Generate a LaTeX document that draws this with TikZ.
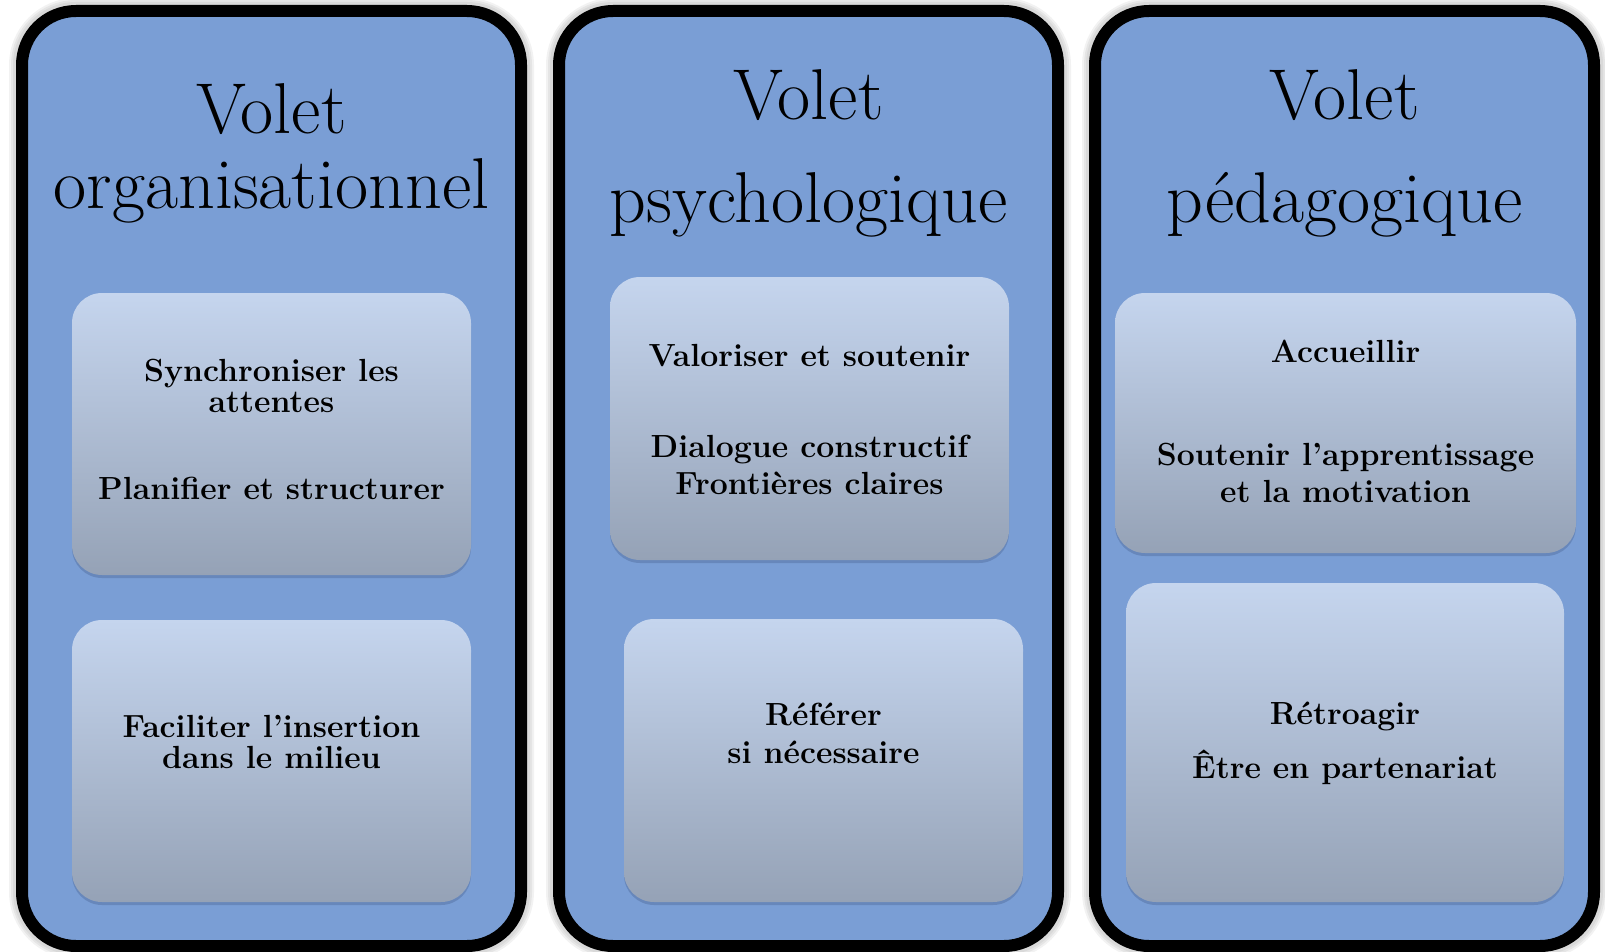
\documentclass[tikz,border=0pt]{standalone}
\usetikzlibrary{shadows}
\definecolor{panelblue}{RGB}{122,158,213}
\definecolor{boxtop}{RGB}{197,213,238}
\definecolor{boxbot}{RGB}{149,162,182}
\definecolor{shadowblue}{RGB}{60,85,130}
\tikzset{
  panel/.style={draw=black, line width=6pt, fill=panelblue, rounded corners=27pt,
    minimum width=249.5pt, minimum height=467.5pt, inner sep=0pt, outer sep=0pt},
  glowbox/.style={draw=black, opacity=0.05, rounded corners=27pt,
    minimum width=249.5pt, minimum height=467.5pt, inner sep=0pt, outer sep=0pt},
  innerbox/.style={rounded corners=15pt, top color=boxtop, bottom color=boxbot,
    draw=none, inner sep=0pt, outer sep=0pt,
    drop shadow={shadow xshift=0pt, shadow yshift=-1.5pt, opacity=0.3, fill=shadowblue}},
  title/.style={font=\fontsize{36}{40}\selectfont, anchor=base, inner sep=0pt},
  item/.style={font=\fontsize{16}{19}\selectfont\bfseries, anchor=base, inner sep=0pt},
}
\newcommand\mypanel[2]{%
  \foreach \w in {13,11,9} {\node[glowbox, line width=\w pt] at (#2,478.5) {};}
  \node[panel] (#1) at (#2,478.5) {};
}
\newcommand\mybox[5]{%
  \node[innerbox, minimum width={(#4-#2)*0.5pt}, minimum height={(#5-#3)*0.5pt}]
    (#1) at ({(#2+#4)/2},{(#3+#5)/2}) {};
}
\begin{document}
\begin{tikzpicture}[x=0.5pt, y=-0.5pt]
\useasboundingbox[fill=white] (0,0) rectangle (1605,952);
% panels
\mypanel{p1}{271.5}
\mypanel{p2}{808.5}
\mypanel{p3}{1344.5}
% titles
\node[title] (t1a) at (271.5,134) {Volet};
\node[title] (t1b) at (271.5,209) {organisationnel};
\node[title] (t2a) at (808.5,120) {Volet};
\node[title] (t2b) at (808.5,223) {psychologique};
\node[title] (t3a) at (1344.5,120) {Volet};
\node[title] (t3b) at (1344.5,223) {pédagogique};
% inner boxes
\mybox{b1a}{72}{293}{471}{575}
\mybox{b1b}{72}{620}{471}{902}
\mybox{b2a}{610}{277}{1009}{560}
\mybox{b2b}{624}{619}{1023}{902}
\mybox{b3a}{1115}{293}{1576}{553}
\mybox{b3b}{1126}{583}{1564}{902}
% texts
\node[item] (s1) at (271.5,381) {Synchroniser les};
\node[item] (s2) at (271.5,412) {attentes};
\node[item] (s3) at (271.5,499) {Planifier et structurer};
\node[item] (s4) at (271.5,737) {Faciliter l’insertion};
\node[item] (s5) at (271.5,768) {dans le milieu};
\node[item] (m1) at (809.5,366) {Valoriser et soutenir};
\node[item] (m2) at (809.5,457) {Dialogue constructif};
\node[item] (m3) at (809.5,494) {Frontières claires};
\node[item] (m4) at (823.5,725) {Référer};
\node[item] (m5) at (823.5,763) {si nécessaire};
\node[item] (r1) at (1345.5,362) {Accueillir};
\node[item] (r2) at (1345.5,465) {Soutenir l’apprentissage};
\node[item] (r3) at (1345.5,502) {et la motivation};
\node[item] (r4) at (1345,724) {Rétroagir};
\node[item] (r5) at (1345,778) {Être en partenariat};
\end{tikzpicture}
\end{document}
